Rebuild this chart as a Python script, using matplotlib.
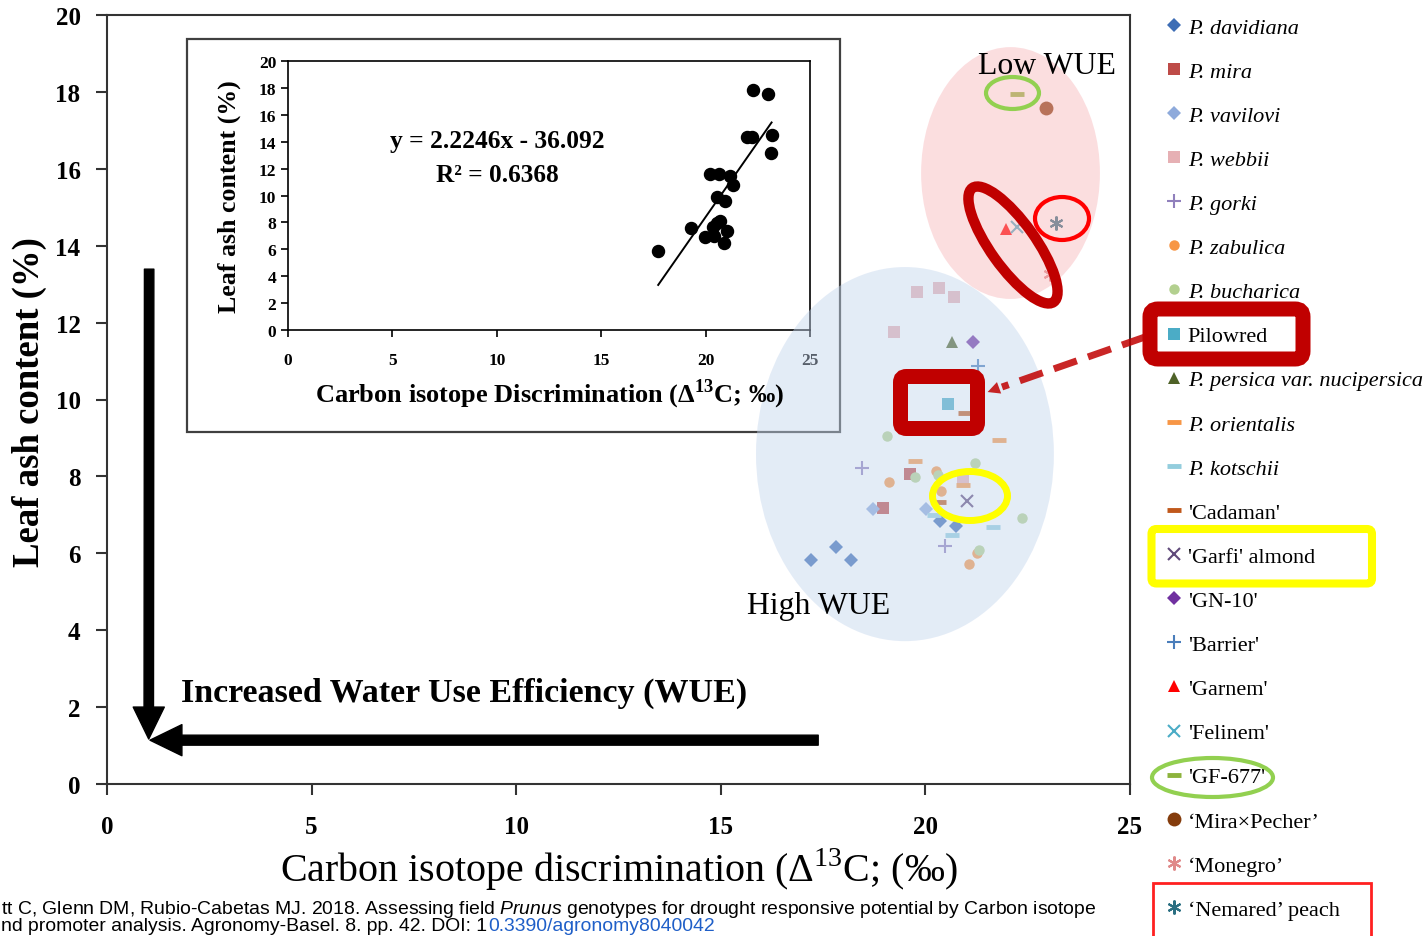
import matplotlib
matplotlib.use('Agg')
import matplotlib.pyplot as plt
from matplotlib.patches import Ellipse, FancyBboxPatch, Rectangle, FancyArrowPatch
from matplotlib.lines import Line2D

plt.rcParams['font.family'] = 'Liberation Serif'
plt.rcParams['mathtext.fontset'] = 'custom'
plt.rcParams['mathtext.rm'] = 'Liberation Serif'
plt.rcParams['mathtext.bf'] = 'Liberation Serif:bold'
plt.rcParams['mathtext.it'] = 'Liberation Sans:italic'

W, H = 1426, 937

# main chart: carbon isotope discrimination (x) vs leaf ash content (y)
davidiana_x = [17.20, 17.81, 18.17, 20.36, 20.76]
davidiana_y = [5.83, 6.17, 5.83, 6.85, 6.72]
mira_x = [18.97, 19.62]
mira_y = [7.19, 8.06]
vavilovi_x = [18.71, 20.01]
vavilovi_y = [7.15, 7.15]
webbii_x = [19.23, 19.80, 20.33, 20.70, 20.93]
webbii_y = [11.76, 12.80, 12.90, 12.67, 7.95]
gorki_x = [18.44, 20.48]
gorki_y = [8.23, 6.18]
zabulica_x = [19.11, 20.25, 20.38, 21.07, 21.25]
zabulica_y = [7.85, 8.13, 7.61, 5.72, 6.00]
bucharica_x = [19.05, 19.75, 20.32, 21.21, 22.35, 21.32]
bucharica_y = [9.06, 7.98, 8.04, 8.36, 6.92, 6.08]
pilowred_x = [20.56]
pilowred_y = [9.87]
nucipersica_x = [20.64]
nucipersica_y = [11.49]
orientalis_x = [19.75, 20.93, 21.81]
orientalis_y = [8.41, 7.78, 8.95]
kotschii_x = [20.22, 20.64, 21.66]
kotschii_y = [7.00, 6.48, 6.68]
cadaman_x = [20.33, 20.97]
cadaman_y = [7.34, 9.64]
garfi_x = [21.01]
garfi_y = [7.35]
gn10_x = [21.17]
gn10_y = [11.49]
barrier_x = [21.29]
barrier_y = [10.86]
garnem_x = [21.97]
garnem_y = [14.43]
felinem_x = [22.24]
felinem_y = [14.49]
gf677_x = [22.24]
gf677_y = [17.95]
mirapecher_x = [22.95]
mirapecher_y = [17.58]
monegro_x = [23.04]
monegro_y = [13.26]
nemared_x = [23.19]
nemared_y = [14.59]

labels = ["P. davidiana", "P. mira", "P. vavilovi", "P. webbii", "P. gorki",
          "P. zabulica", "P. bucharica", "Pilowred", "P. persica var. nucipersica",
          "P. orientalis", "P. kotschii", "'Cadaman'", "'Garfi' almond", "'GN-10'",
          "'Barrier'", "'Garnem'", "'Felinem'", "'GF-677'", "\u2018Mira\u00d7Pecher\u2019",
          "\u2018Monegro\u2019", "\u2018Nemared\u2019 peach"]

# inset: pooled genotype means with linear fit
inset_x = [22.26, 22.97, 21.97, 22.20, 23.16, 23.13, 20.21, 20.64, 21.17, 21.30, 20.56,
           20.93, 20.69, 20.56, 20.34, 19.30, 19.97, 20.42, 21.01, 20.88, 17.73]
inset_y = [17.87, 17.57, 14.37, 14.37, 14.50, 13.14, 11.60, 11.60, 11.47, 10.80, 9.91,
           9.57, 8.13, 7.93, 7.68, 7.58, 6.94, 7.01, 7.34, 6.49, 5.90]
slope, intercept, r2 = 2.2246, -36.092, 0.6368

series = [
    (davidiana_x, davidiana_y, 'D', 7, '#3d6db5'),
    (mira_x, mira_y, 's', 9, '#be4b48'),
    (vavilovi_x, vavilovi_y, 'D', 7, '#8eaadb'),
    (webbii_x, webbii_y, 's', 9, '#e6b0b4'),
    (gorki_x, gorki_y, '+', 10, '#9080bc'),
    (zabulica_x, zabulica_y, 'o', 7.5, '#f79646'),
    (bucharica_x, bucharica_y, 'o', 7.5, '#b3d08f'),
    (pilowred_x, pilowred_y, 's', 9, '#4bacc6'),
    (nucipersica_x, nucipersica_y, '^', 9, '#4f6228'),
    (orientalis_x, orientalis_y, '_', 10, '#f79646'),
    (kotschii_x, kotschii_y, '_', 10, '#93cddd'),
    (cadaman_x, cadaman_y, '_', 10, '#c0581b'),
    (garfi_x, garfi_y, 'x', 9, '#604a7b'),
    (gn10_x, gn10_y, 'D', 7, '#7030a0'),
    (barrier_x, barrier_y, '+', 10, '#4a7ebb'),
    (garnem_x, garnem_y, '^', 9, '#ff0000'),
    (felinem_x, felinem_y, 'x', 9, '#4bacc6'),
    (gf677_x, gf677_y, '_', 10, '#8db33c'),
    (mirapecher_x, mirapecher_y, 'o', 10, '#843c0c'),
    (monegro_x, monegro_y, (6, 2, 0), 10, '#e08a8a'),
    (nemared_x, nemared_y, (6, 2, 0), 10, '#2b6f82'),
]

fig = plt.figure(figsize=(W / 100, H / 100), dpi=100)
renderer = fig.canvas.get_renderer()
T = fig.dpi_scale_trans


def P(x, y):
    # picture pixel (from top-left) -> inches
    return x / 100.0, (H - y) / 100.0


def fit(t, target, vertical=False):
    bb = t.get_window_extent(renderer)
    size = bb.height if vertical else bb.width
    t.set_fontsize(t.get_fontsize() * target / size)


# ---------------- main axes ----------------
ax = fig.add_axes([107 / W, 1 - 785 / H, (1130 - 107) / W, (785 - 16) / H])
ax.set_xlim(0, 25)
ax.set_ylim(0, 20)
ax.set_xticks(range(0, 26, 5))
ax.set_yticks(range(0, 21, 2))
ax.tick_params(axis='both', direction='out', length=8, width=1.5, color='#333333', labelsize=18)
ax.tick_params(axis='x', pad=14)
ax.tick_params(axis='y', pad=11)
for lab in ax.get_xticklabels() + ax.get_yticklabels():
    lab.set_fontweight('bold')
for sp in ax.spines.values():
    sp.set_linewidth(1.5)
    sp.set_color('#333333')

handles = []
for xs, ys, mk, ms, col in series:
    line_mk = mk in ('+', 'x', '_') or isinstance(mk, tuple)
    h, = ax.plot(xs, ys, linestyle='none', marker=mk, ms=ms, color=col,
                 mec=col, mfc=col, mew=(3.5 if mk == '_' else 1.5) if line_mk else 0)
    handles.append(h)

leg = ax.legend(handles, labels, loc='upper left', bbox_to_anchor=(1165 / W, 1 - 18 / H),
                bbox_transform=fig.transFigure, frameon=False, fontsize=16, borderpad=0,
                borderaxespad=0, labelspacing=1.06, handlelength=0.8, handletextpad=0.22,
                numpoints=1)
for t in leg.get_texts():
    if t.get_text().startswith('P.'):
        t.set_fontstyle('italic')

# big black arrows
ax.add_patch(FancyArrowPatch((1.03, 13.39), (1.02, 1.17), arrowstyle='simple,head_length=1.15,head_width=1.12,tail_width=0.34',
                             mutation_scale=20, color='black', shrinkA=0, shrinkB=0))
ax.add_patch(FancyArrowPatch((17.38, 1.14), (1.05, 1.14), arrowstyle='simple,head_length=1.15,head_width=1.12,tail_width=0.36',
                             mutation_scale=20, color='black', shrinkA=0, shrinkB=0))
t = ax.text(1.8, 2.37, 'Increased Water Use Efficiency (WUE)', fontsize=22, fontweight='bold',
            ha='left', va='center')
fit(t, 566)

# ---------------- inset ----------------
fig.add_artist(Rectangle(P(187, 433), 6.53, 3.93, transform=T, fc='white', ec='#404040', lw=1.6, zorder=1.5))
ins = fig.add_axes([288 / W, 1 - 331 / H, (810 - 288) / W, (331 - 62) / H], zorder=2)
ins.set_xlim(0, 25)
ins.set_ylim(0, 20)
ins.set_xticks(range(0, 26, 5))
ins.set_yticks(range(0, 21, 2))
ins.tick_params(axis='both', direction='out', length=5, width=1.2, labelsize=12.5)
ins.tick_params(axis='x', pad=11)
for lab in ins.get_xticklabels() + ins.get_yticklabels():
    lab.set_fontweight('bold')
for sp in ins.spines.values():
    sp.set_linewidth(1.2)
ins.scatter(inset_x, inset_y, s=75, color='black', zorder=3)
x0, x1 = min(inset_x), max(inset_x)
ins.plot([x0, x1], [slope * x0 + intercept, slope * x1 + intercept], color='black', lw=1.4)
t = fig.text(*P(497, 142), f'y = {slope}x - {abs(intercept)}', transform=T, ha='center', va='center',
             fontsize=17, fontweight='bold', zorder=3)
fit(t, 214)
t = fig.text(*P(497, 176), f'R\u00b2 = {r2}', transform=T, ha='center', va='center',
             fontsize=17, fontweight='bold', zorder=3)
fit(t, 122)
t = fig.text(*P(229, 197), 'Leaf ash content (%)', transform=T, ha='center', va='center', rotation=90,
             fontsize=15, fontweight='bold', zorder=3)
fit(t, 233, vertical=True)
t = fig.text(*P(550, 395), 'Carbon isotope Discrimination (\u0394${}^{\\mathbf{13}}$C; \u2030)', transform=T,
             ha='center', va='center', fontsize=16, fontweight='bold', zorder=3)
fit(t, 471)

# ---------------- WUE zones ----------------
fig.add_artist(Ellipse((19.5, 8.58), 7.28, 9.73, transform=ax.transData, fc=(195 / 255, 213 / 255, 237 / 255),
                       ec='none', alpha=0.45, zorder=3))
fig.add_artist(Ellipse((22.08, 15.89), 4.37, 6.55, transform=ax.transData, fc=(248 / 255, 182 / 255, 186 / 255),
                       ec='none', alpha=0.45, zorder=3))
t = fig.text(*P(1047, 67), 'Low WUE', transform=T, ha='center', va='center', fontsize=22, zorder=6)
fit(t, 138)
t = fig.text(*P(819, 607), 'High WUE', transform=T, ha='center', va='center', fontsize=22, zorder=6)
fit(t, 143)

# ---------------- highlights ----------------
dred = '#c00000'
fig.add_artist(FancyBboxPatch(P(1150, 360), 1.53, 0.50, boxstyle='round,pad=0,rounding_size=0.08',
                              transform=T, fc='none', ec=dred, lw=10.8, zorder=6))
fig.add_artist(FancyBboxPatch(P(900.5, 429.5), 0.77, 0.52, boxstyle='round,pad=0,rounding_size=0.06',
                              transform=T, fc='none', ec=dred, lw=10.8, zorder=6))
fig.add_artist(Line2D([11.45, 10.02], [(H - 338) / 100, (H - 388) / 100], transform=T, color=dred,
                      lw=5, dashes=(3.5, 1.7), alpha=0.85, zorder=6))
fig.add_artist(FancyArrowPatch(P(1004, 387), P(985, 394), transform=T, arrowstyle='-|>', mutation_scale=22,
                               color=dred, lw=0, alpha=0.85, zorder=6))
fig.add_artist(Ellipse(P(1013, 246), 1.40, 0.45, angle=-54.5, transform=T, fc='none', ec=dred, lw=7.5, zorder=6))
fig.add_artist(Ellipse(P(1062, 219.5), 0.54, 0.43, transform=T, fc='none', ec='#ff0000', lw=3, zorder=6))
fig.add_artist(Ellipse(P(1012.5, 94), 0.53, 0.32, transform=T, fc='none', ec='#92d050', lw=3, zorder=6))
fig.add_artist(Ellipse(P(970, 497), 0.75, 0.49, transform=T, fc='none', ec='#ffff00', lw=5, zorder=6))
fig.add_artist(FancyBboxPatch(P(1151.5, 584.5), 2.205, 0.545, boxstyle='round,pad=0,rounding_size=0.05',
                              transform=T, fc='none', ec='#ffff00', lw=5.8, zorder=6))
fig.add_artist(Ellipse(P(1212.5, 778.5), 1.21, 0.39, transform=T, fc='none', ec='#92d050', lw=3, zorder=6))
fig.add_artist(Rectangle(P(1153, 948), 2.18, 0.64, transform=T, fc='none', ec='#ff2020', lw=2, zorder=6))

# ---------------- axis titles ----------------
t = fig.text(*P(29, 402), 'Leaf ash content (%)', transform=T, ha='center', va='center', rotation=90,
             fontsize=22, fontweight='bold')
fit(t, 330, vertical=True)
t = fig.text(*P(619, 870), 'Carbon isotope discrimination (\u0394${}^{13}$C; (\u2030)', transform=T,
             ha='center', va='center', fontsize=24)
fit(t, 678)

# ---------------- citation ----------------
cite_font = ['Liberation Sans Narrow', 'Liberation Sans']
c1 = fig.text(*P(1, 910), 'tt C, Glenn DM, Rubio-Cabetas MJ. 2018. Assessing field $\\mathit{Prunus}$ genotypes '
              'for drought responsive potential by Carbon isotope', transform=T, ha='left', va='center',
              fontsize=13, family=cite_font)
fit(c1, 1089)
c2 = fig.text(*P(1, 927), 'nd promoter analysis. Agronomy-Basel. 8. pp. 42. DOI: 1', transform=T, ha='left',
              va='center', fontsize=c1.get_fontsize(), family=cite_font)
bb = c2.get_window_extent(renderer)
fig.text(bb.x1 / 100 + 0.01, (H - 927) / 100, '0.3390/agronomy8040042', transform=T, ha='left', va='center',
         fontsize=c1.get_fontsize(), family=cite_font, color='#1f5fc8')

fig.savefig('out.png', dpi=100)
